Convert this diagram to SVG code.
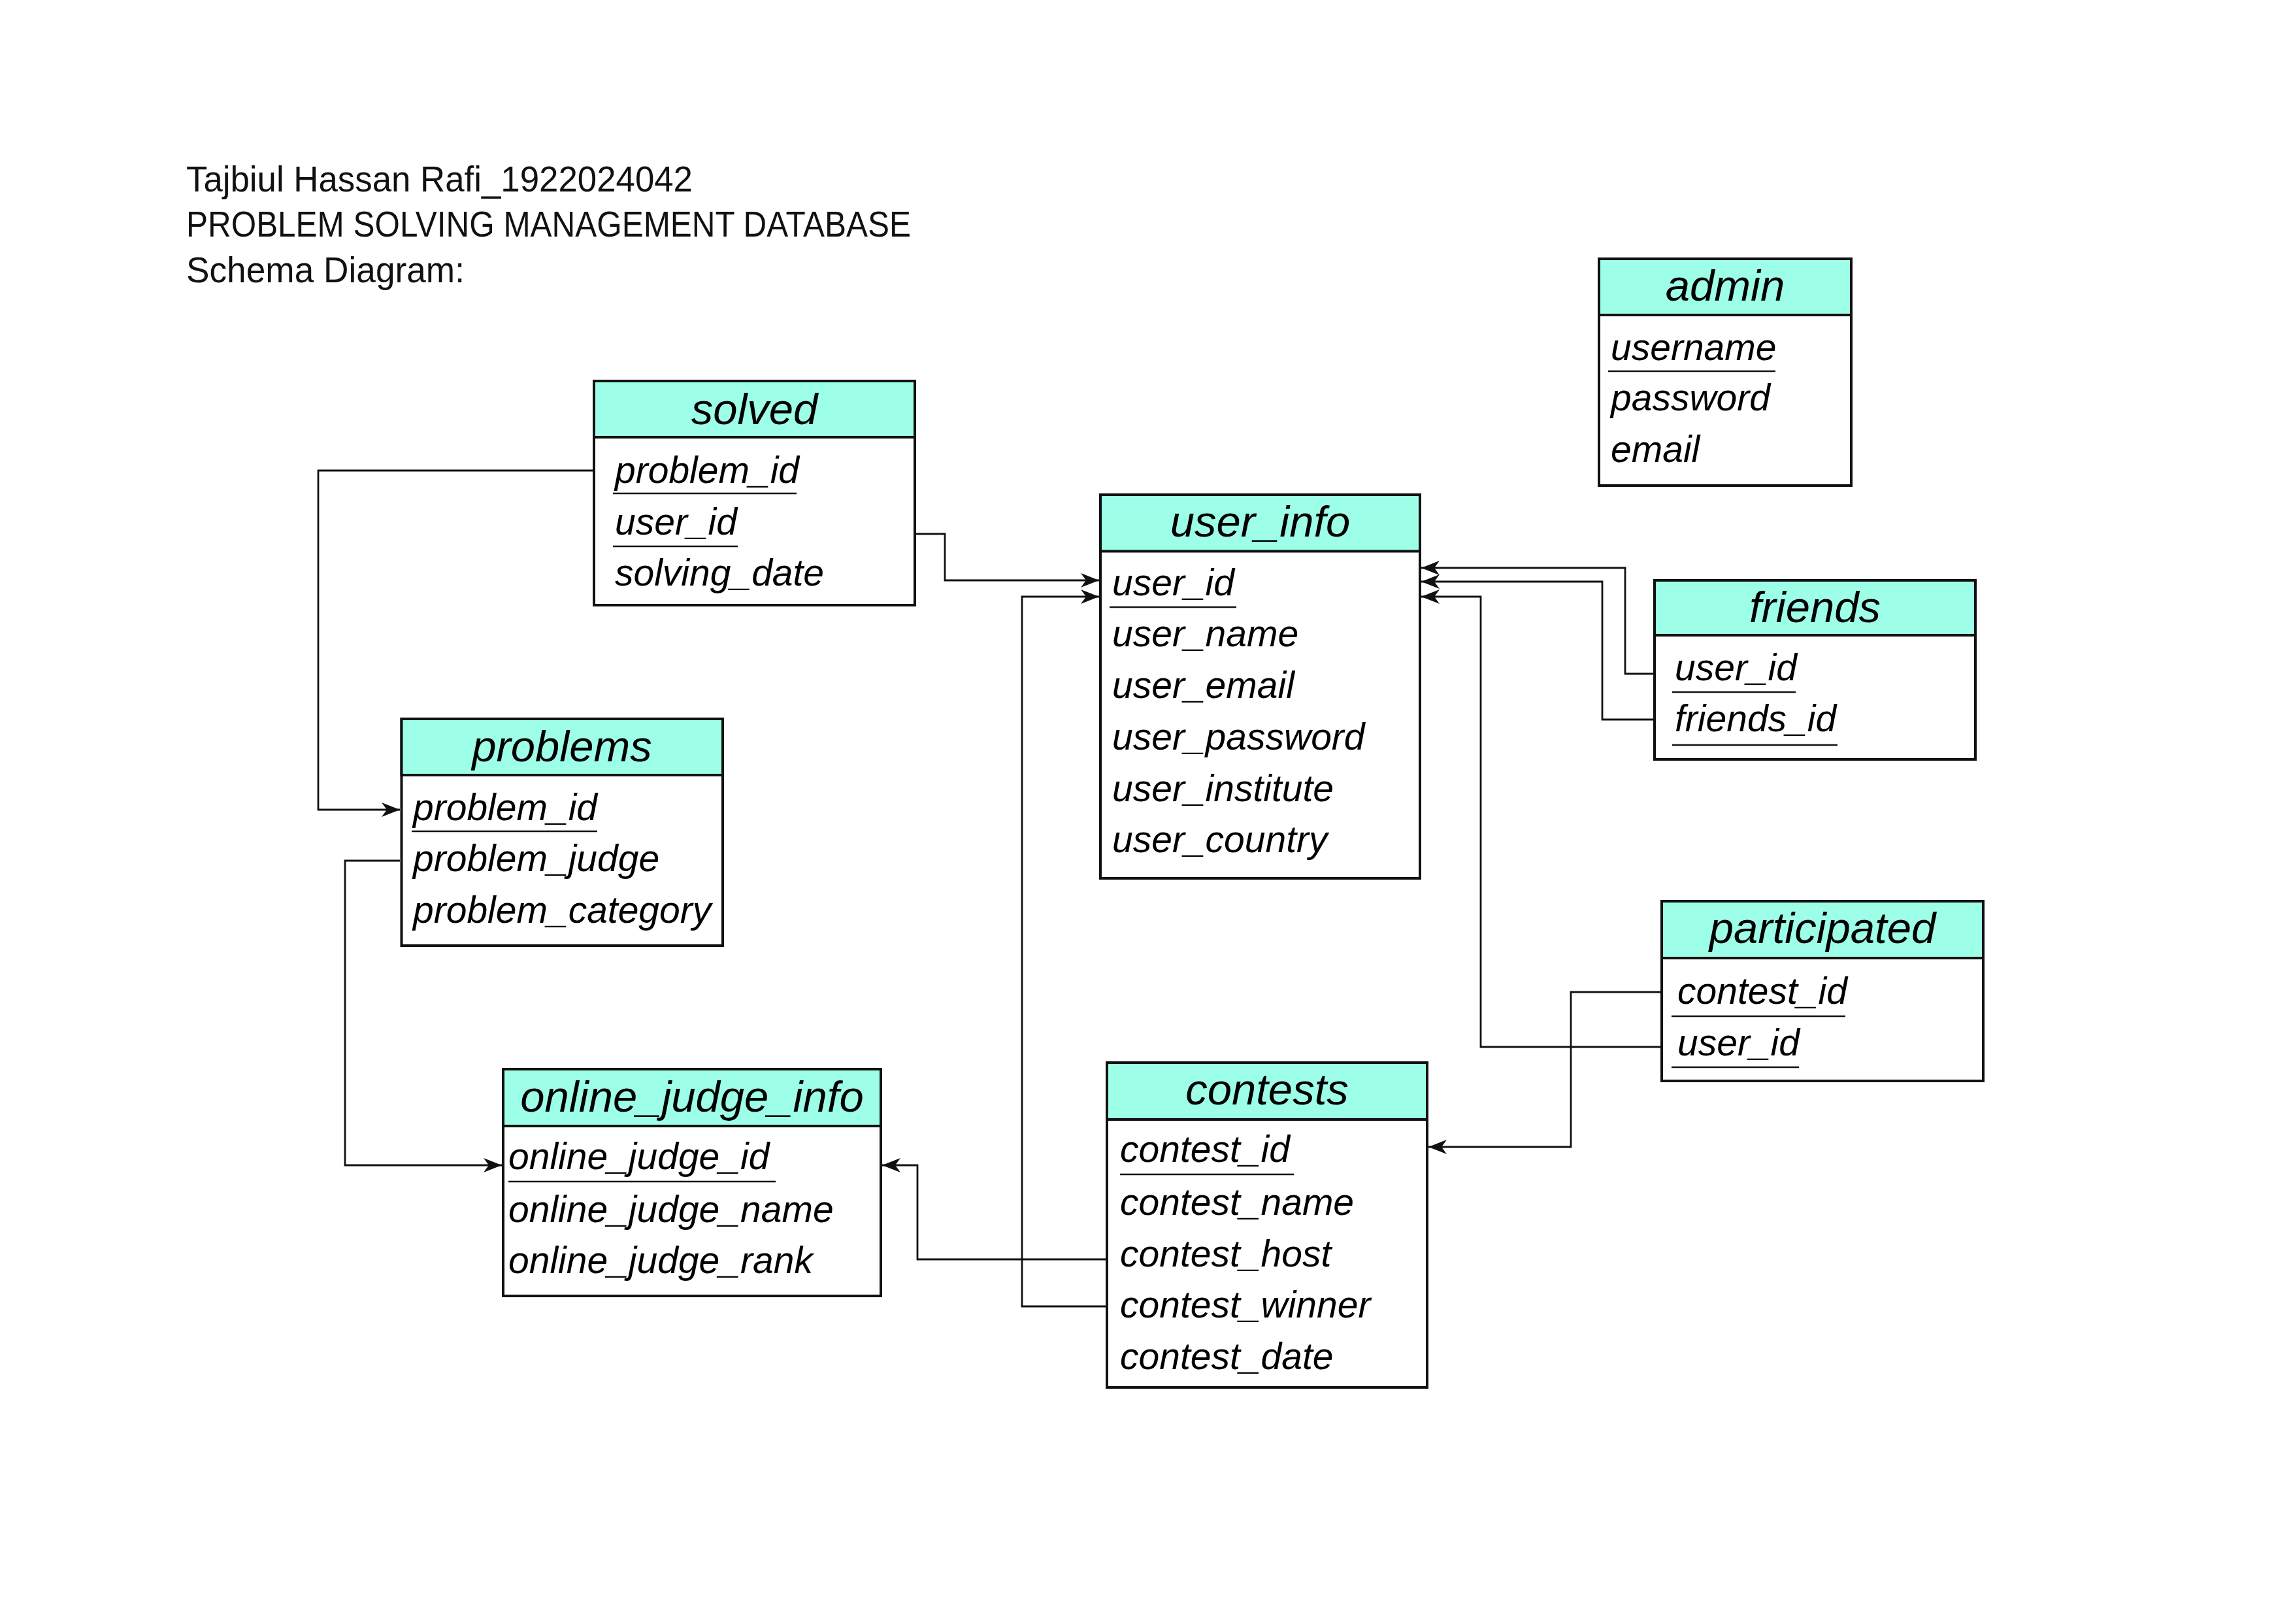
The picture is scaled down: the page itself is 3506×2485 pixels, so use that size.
<svg xmlns="http://www.w3.org/2000/svg" width="3506" height="2485" viewBox="0 0 3506 2485">
<style>
.bg{fill:#ffffff}
.box{fill:#ffffff;stroke:#111111;stroke-width:4}
.hdr{fill:#9dffe7;stroke:#111111;stroke-width:4}
.ht{font-family:"Liberation Sans",Arial,sans-serif;font-style:italic;font-size:67px;fill:#000;text-anchor:middle}
.ft{font-family:"Liberation Sans",Arial,sans-serif;font-style:italic;font-size:57px;fill:#000}
.ul{stroke:#111111;stroke-width:2.5}
.title{font-family:"Liberation Sans",Arial,sans-serif;font-size:56px;fill:#111}
.con{fill:none;stroke:#111111;stroke-width:2.8}
</style>
<defs>
<marker id="arr" markerUnits="userSpaceOnUse" markerWidth="30" markerHeight="24" refX="28" refY="11" orient="auto">
<path d="M0,0 L28,11 L0,22 L8,11 Z" fill="#111111"/>
</marker>
</defs>
<rect class="bg" x="0" y="0" width="3506" height="2485"/>

<g id="title">
<text class="title" x="285" y="293" textLength="775" lengthAdjust="spacingAndGlyphs">Tajbiul Hassan Rafi_1922024042</text>
<text class="title" x="285" y="362" textLength="1109" lengthAdjust="spacingAndGlyphs">PROBLEM SOLVING MANAGEMENT DATABASE</text>
<text class="title" x="285" y="432" textLength="426" lengthAdjust="spacingAndGlyphs">Schema Diagram:</text>
</g>

<g id="connectors">
<path class="con" d="M909,720 H487 V1239 H612" marker-end="url(#arr)"/>
<path class="con" d="M612,1317 H528 V1783 H768" marker-end="url(#arr)"/>
<path class="con" d="M1402,817 H1446 V888 H1682" marker-end="url(#arr)"/>
<path class="con" d="M1692,1999 H1564 V913 H1682" marker-end="url(#arr)"/>
<path class="con" d="M1692,1927 H1404 V1783 H1350" marker-end="url(#arr)"/>
<path class="con" d="M2541,1518 H2404 V1755 H2186" marker-end="url(#arr)"/>
<path class="con" d="M2541,1602 H2266 V913 H2175" marker-end="url(#arr)"/>
<path class="con" d="M2530,1031 H2487 V869 H2175" marker-end="url(#arr)"/>
<path class="con" d="M2530,1101 H2452 V890 H2175" marker-end="url(#arr)"/>
</g>

<g id="solved">
<rect class="box" x="909" y="583" width="491" height="343"/>
<rect class="hdr" x="909" y="583" width="491" height="86"/>
<text class="ht" x="1154.5" y="649">solved</text>
<text class="ft" x="941" y="739">problem_id</text>
<line class="ul" x1="938" y1="755" x2="1219" y2="755"/>
<text class="ft" x="941" y="818">user_id</text>
<line class="ul" x1="938" y1="836" x2="1129" y2="836"/>
<text class="ft" x="941" y="896">solving_date</text>
</g>

<g id="problems">
<rect class="box" x="614.5" y="1100" width="491.5" height="347"/>
<rect class="hdr" x="614.5" y="1100" width="491.5" height="86"/>
<text class="ht" x="860" y="1165">problems</text>
<text class="ft" x="632" y="1255">problem_id</text>
<line class="ul" x1="630" y1="1272" x2="914" y2="1272"/>
<text class="ft" x="632" y="1333">problem_judge</text>
<text class="ft" x="632" y="1412">problem_category</text>
</g>

<g id="online_judge_info">
<rect class="box" x="770" y="1636" width="578" height="347"/>
<rect class="hdr" x="770" y="1636" width="578" height="87"/>
<text class="ht" x="1059" y="1701">online_judge_info</text>
<text class="ft" x="778" y="1789">online_judge_id</text>
<line class="ul" x1="778" y1="1808" x2="1187" y2="1808"/>
<text class="ft" x="778" y="1870">online_judge_name</text>
<text class="ft" x="778" y="1948">online_judge_rank</text>
</g>

<g id="user_info">
<rect class="box" x="1684" y="757" width="489" height="587"/>
<rect class="hdr" x="1684" y="757" width="489" height="86.5"/>
<text class="ht" x="1928.5" y="821">user_info</text>
<text class="ft" x="1702" y="911">user_id</text>
<line class="ul" x1="1698" y1="929" x2="1892" y2="929"/>
<text class="ft" x="1702" y="989">user_name</text>
<text class="ft" x="1702" y="1068">user_email</text>
<text class="ft" x="1702" y="1147">user_password</text>
<text class="ft" x="1702" y="1226">user_institute</text>
<text class="ft" x="1702" y="1304">user_country</text>
</g>

<g id="contests">
<rect class="box" x="1694" y="1626" width="490" height="497"/>
<rect class="hdr" x="1694" y="1626" width="490" height="87"/>
<text class="ht" x="1939" y="1690">contests</text>
<text class="ft" x="1714" y="1778">contest_id</text>
<line class="ul" x1="1714" y1="1797" x2="1980" y2="1797"/>
<text class="ft" x="1714" y="1859">contest_name</text>
<text class="ft" x="1714" y="1938">contest_host</text>
<text class="ft" x="1714" y="2016">contest_winner</text>
<text class="ft" x="1714" y="2095">contest_date</text>
</g>

<g id="admin">
<rect class="box" x="2447" y="396" width="386" height="347"/>
<rect class="hdr" x="2447" y="396" width="386" height="86"/>
<text class="ht" x="2640" y="460">admin</text>
<text class="ft" x="2465" y="551">username</text>
<line class="ul" x1="2461" y1="568" x2="2717" y2="568"/>
<text class="ft" x="2465" y="628">password</text>
<text class="ft" x="2465" y="707">email</text>
</g>

<g id="friends">
<rect class="box" x="2532" y="888" width="491" height="274"/>
<rect class="hdr" x="2532" y="888" width="491" height="84"/>
<text class="ht" x="2777.5" y="952">friends</text>
<text class="ft" x="2563" y="1041">user_id</text>
<line class="ul" x1="2559" y1="1059" x2="2748" y2="1059"/>
<text class="ft" x="2563" y="1119">friends_id</text>
<line class="ul" x1="2559" y1="1140" x2="2812" y2="1140"/>
</g>

<g id="participated">
<rect class="box" x="2543" y="1379" width="492" height="275"/>
<rect class="hdr" x="2543" y="1379" width="492" height="87"/>
<text class="ht" x="2789" y="1443">participated</text>
<text class="ft" x="2567" y="1536">contest_id</text>
<line class="ul" x1="2558" y1="1555" x2="2824" y2="1555"/>
<text class="ft" x="2567" y="1615">user_id</text>
<line class="ul" x1="2558" y1="1633" x2="2753" y2="1633"/>
</g>
</svg>
